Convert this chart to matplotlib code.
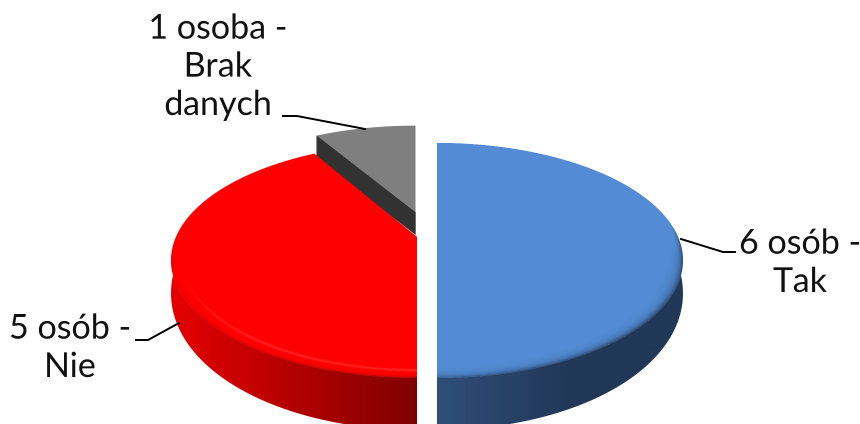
import numpy as np
import matplotlib
matplotlib.use("Agg")
import matplotlib.pyplot as plt
from matplotlib.patches import Polygon
from matplotlib.collections import LineCollection
from matplotlib.colors import to_rgb

# Survey answers, clockwise from twelve o'clock
people = [6, 5, 1]
captions = ["6 osób -\nTak", "5 osób -\nNie", "1 osoba -\nBrak\ndanych"]
top_colours = ["#538dd5", "#ff0000", "#7f7f7f"]
# Side wall shade at the start and end of its horizontal gradient
wall_start = ["#2f4f7a", "#e60000", "#333333"]
wall_end = ["#223858", "#800000", "#333333"]
# Slice displacement: pixels sideways, pie radii away from the viewer
offsets = [(20.0, 0.0), (0.0, 0.0), (-1.5, 0.23)]
# Width of the soft rim on the near side, in pie radii
bevels = [0.06, 0.025, 0.0]

CX, CY, RX, RY, PERSP = 417.0, 237.0, 241.0, 112.8, 0.2
SCALE = 3


def project(u, v, shift):
    s = 1.0 / (1.0 + PERSP * v)
    return CX + shift + RX * u * s, CY - RY * v * s


def wall_height(v):
    return 22.0 + 30.0 * np.clip(0.25 - v, 0.0, 1.25) / 1.25


fig = plt.figure(figsize=(8.6, 4.24), dpi=100 * SCALE)
ax = fig.add_axes([0, 0, 1, 1])
ax.set_xlim(0, 860)
ax.set_ylim(424, 0)
ax.axis("off")

edges = 360.0 * np.cumsum([0] + people) / sum(people)

# Far slice first so the nearer ones overlap it
for z, idx in enumerate((2, 0, 1)):
    shift, dv = offsets[idx]
    th = np.radians(np.linspace(edges[idx], edges[idx + 1], 361))
    sin_t, cos_t = np.sin(th), np.cos(th)
    x, y = project(sin_t, dv + cos_t, shift)
    ox, oy = project(0.0, dv, shift)
    top = to_rgb(top_colours[idx])
    zbase = 2 + z

    width = bevels[idx] * np.clip((0.1 - cos_t) / 0.3, 0, 1)

    if idx != 2:
        # Outer wall: horizontal gradient clipped first to the wall, then to the rim band
        front = cos_t < 0.25
        xf, yf = x[front], y[front]
        ring_x, ring_y = project(sin_t * (1 - width), dv + cos_t * (1 - width), shift)
        ring_x, ring_y = ring_x[front], ring_y[front]
        low = yf + wall_height(dv + cos_t[front])
        wall_outline = np.column_stack([np.r_[xf, xf[::-1]], np.r_[yf, low[::-1]]])
        band_outline = np.column_stack([np.r_[ring_x, xf[::-1]], np.r_[ring_y, yf[::-1]]])
        x_lo, x_hi = xf.min(), xf.max()
        ramp_end = x_lo + 130 if idx == 0 else x_hi
        xs = np.linspace(x_lo, x_hi, 512)
        ramp = np.clip((xs - x_lo) / (ramp_end - x_lo), 0, 1)[None, :, None]
        img = np.asarray(to_rgb(wall_start[idx]))[None, None, :] * (1 - ramp) + \
            np.asarray(to_rgb(wall_end[idx]))[None, None, :] * ramp
        for outline in (wall_outline, band_outline):
            im = ax.imshow(img, extent=[x_lo, x_hi, low.max() + 1, ring_y.min() - 1],
                           aspect="auto", interpolation="bilinear", zorder=zbase)
            im.set_clip_path(Polygon(outline, closed=True, transform=ax.transData))
        ax.set_xlim(0, 860)
        ax.set_ylim(424, 0)
    else:
        # Cut face between the far slice and the red one
        ax.fill([x[0], ox, ox, x[0]],
                [y[0], oy, oy + wall_height(dv), y[0] + wall_height(dv + cos_t[0])],
                color=wall_start[idx], lw=0.3, zorder=zbase)

    # Top face, faded towards the wall through stacked translucent layers
    layers = 12 if idx != 2 else 1
    for k in range(layers):
        frac = k / max(layers - 1, 1)
        r = 1 - width * frac
        px, py = project(sin_t * r, dv + cos_t * r, shift)
        ax.fill(np.r_[ox, px], np.r_[oy, py], color=top,
                alpha=1.0 if k == layers - 1 else 0.32, lw=0, zorder=zbase + 0.1)

    # Highlight fading in just inside the near rim of the red slice
    if idx == 1:
        r = 0.955
        hx, hy = project(sin_t * r, dv + cos_t * r, shift)
        pts = np.column_stack([hx, hy])
        segs = np.stack([pts[:-1], pts[1:]], axis=1)
        fade = np.clip((-cos_t[:-1] - 0.35) / 0.45, 0, 1)
        for lw, a in ((3.0, 0.035), (1.8, 0.05), (0.9, 0.06)):
            rgba_line = np.column_stack([np.ones((len(fade), 3)), fade * a])
            ax.add_collection(LineCollection(segs, colors=rgba_line, linewidths=lw,
                                             capstyle="butt", zorder=zbase + 0.2))

# Captions with their leader lines
font = dict(family="Lato", fontsize=24.5, color="#111111", ha="center", va="center", linespacing=1.27)
ax.text(800, 263, captions[0], zorder=10, **font)
ax.text(70, 348, captions[1], zorder=10, **font)
ax.text(218, 67, captions[2], zorder=10, **font)

leader = dict(color="black", lw=1.4, zorder=9, solid_joinstyle="miter")
ax.plot([681, 723, 735], [239, 252, 252], **leader)
ax.plot([179, 148, 136], [323, 340, 340], **leader)
ax.plot([283, 297, 365], [116, 116, 129], **leader)

# Render large and average down for smooth outlines
fig.canvas.draw()
rgba = np.asarray(fig.canvas.buffer_rgba())[..., :3].astype(float) / 255.0
h, w = rgba.shape[0] // SCALE, rgba.shape[1] // SCALE
small = rgba[:h * SCALE, :w * SCALE].reshape(h, SCALE, w, SCALE, 3).mean(axis=(1, 3))
plt.imsave("out.png", small)
